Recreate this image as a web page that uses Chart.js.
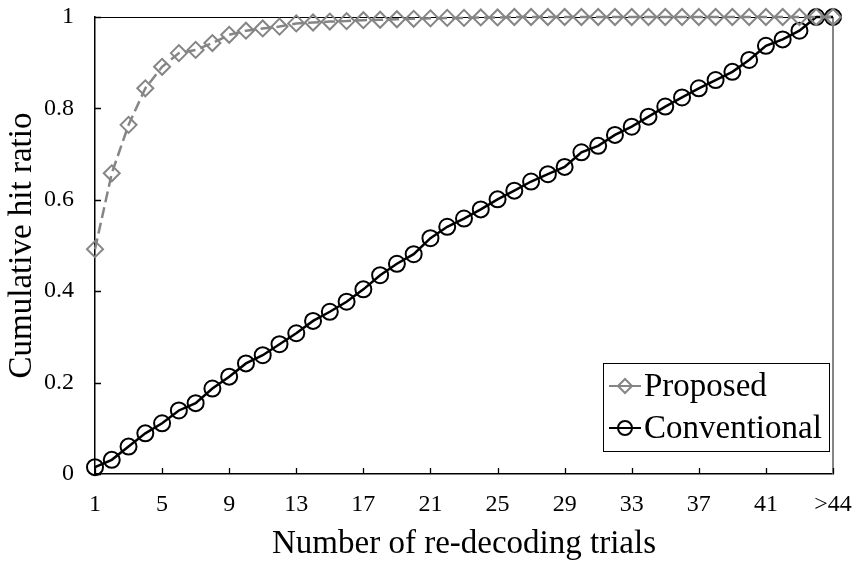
<!DOCTYPE html>
<html>
<head>
<meta charset="utf-8">
<script src="https://cdn.jsdelivr.net/npm/chart.js@4.4.1/dist/chart.umd.min.js"></script>
<style>
  html, body { margin: 0; padding: 0; background: #fff; }
  #wrap { width: 858px; height: 562px; }
</style>
</head>
<body>
<div id="wrap"><canvas id="hitChart" width="858" height="562"></canvas></div>
<script>
// trial counts on the x axis (last bucket collects everything above 44)
const trialLabels = ['1','2','3','4','5','6','7','8','9','10',
  '11','12','13','14','15','16','17','18','19','20',
  '21','22','23','24','25','26','27','28','29','30',
  '31','32','33','34','35','36','37','38','39','40',
  '41','42','43','44','>44'];

const proposedRatio = [0.492, 0.658, 0.764, 0.844, 0.891, 0.921, 0.928, 0.943, 0.961, 0.970,
  0.975, 0.979, 0.986, 0.988, 0.990, 0.991, 0.993, 0.994, 0.995, 0.996,
  0.997, 0.998, 0.998, 0.999, 0.999, 1.0, 1.0, 1.0, 1.0, 1.0,
  1.0, 1.0, 1.0, 1.0, 1.0, 1.0, 1.0, 1.0, 1.0, 1.0,
  1.0, 1.0, 1.0, 1.0, 1.0];

const conventionalRatio = [0.015, 0.031, 0.060, 0.089, 0.111, 0.139, 0.155, 0.187, 0.213, 0.242,
  0.260, 0.284, 0.308, 0.335, 0.355, 0.377, 0.404, 0.435, 0.460, 0.481,
  0.516, 0.541, 0.559, 0.579, 0.601, 0.620, 0.640, 0.656, 0.672, 0.704,
  0.718, 0.742, 0.760, 0.782, 0.804, 0.824, 0.844, 0.862, 0.880, 0.906,
  0.937, 0.951, 0.970, 1.0, 1.0];

const yTicks = [0, 0.2, 0.4, 0.6, 0.8, 1];
const X_LABEL_STEP = 4;

const SERIF = "'Liberation Serif', 'Times New Roman', serif";
const GREY = '#858585';

// inward tick marks plus the top / right frame of the plot area
const frameAndTicks = {
  id: 'frameAndTicks',
  beforeDatasetsDraw(chart) {
    const { ctx, chartArea: a, scales } = chart;
    ctx.save();
    ctx.strokeStyle = '#000';
    ctx.lineWidth = 1;
    ctx.beginPath();
    ctx.moveTo(a.left, a.top + 0.5);
    ctx.lineTo(a.right, a.top + 0.5);
    ctx.stroke();
    ctx.strokeStyle = GREY;
    ctx.lineWidth = 2;
    ctx.beginPath();
    ctx.moveTo(a.right, a.top);
    ctx.lineTo(a.right, a.bottom);
    ctx.stroke();

    ctx.strokeStyle = '#000';
    ctx.lineWidth = 1.3;
    ctx.beginPath();
    scales.x.ticks.forEach((t, i) => {
      if (i % X_LABEL_STEP !== 0) return;
      const px = Math.round(scales.x.getPixelForTick(i)) + 0.5;
      ctx.moveTo(px, a.bottom);
      ctx.lineTo(px, a.bottom - 6);
    });
    scales.y.ticks.forEach((t, i) => {
      const py = Math.round(scales.y.getPixelForTick(i)) + 0.5;
      ctx.moveTo(a.left, py);
      ctx.lineTo(a.left + 6, py);
    });
    ctx.stroke();
    ctx.restore();
  }
};

// boxed legend with line + marker samples
const boxLegend = {
  id: 'boxLegend',
  afterDraw(chart) {
    const { ctx } = chart;
    const box = { x: 603, y: 363, w: 226, h: 88 };
    ctx.save();
    ctx.fillStyle = '#fff';
    ctx.fillRect(box.x, box.y, box.w, box.h);
    ctx.strokeStyle = '#000';
    ctx.lineWidth = 1;
    ctx.strokeRect(box.x + 0.5, box.y + 0.5, box.w, box.h);

    chart.data.datasets.forEach((ds, i) => {
      const cy = box.y + 23 + i * 42;
      ctx.strokeStyle = ds.borderColor;
      ctx.lineWidth = 2;
      ctx.setLineDash([]);
      ctx.beginPath();
      ctx.moveTo(box.x + 6, cy);
      ctx.lineTo(box.x + 38, cy);
      ctx.stroke();
      ctx.fillStyle = 'rgba(0,0,0,0)';
      Chart.helpers.drawPoint(ctx, {
        pointStyle: ds.pointStyle,
        radius: 7,
        borderWidth: ds.pointBorderWidth,
        rotation: 0
      }, box.x + 22, cy);
      ctx.fillStyle = '#000';
      ctx.font = '33px ' + SERIF;
      ctx.textBaseline = 'middle';
      ctx.fillText(ds.label, box.x + 41, cy + 1);
    });
    ctx.restore();
  }
};

new Chart(document.getElementById('hitChart'), {
  type: 'line',
  data: {
    labels: trialLabels,
    datasets: [{
      label: 'Proposed',
      data: proposedRatio,
      borderColor: GREY,
      borderWidth: 2.5,
      borderDash: [11, 5],
      pointStyle: 'rectRot',
      pointRadius: 8,
      pointBorderWidth: 2,
      pointBorderColor: GREY,
      pointBackgroundColor: 'rgba(0,0,0,0)',
      tension: 0,
      clip: false
    }, {
      label: 'Conventional',
      data: conventionalRatio,
      borderColor: '#000',
      borderWidth: 2.5,
      pointStyle: 'circle',
      pointRadius: 8,
      pointBorderWidth: 2,
      pointBorderColor: '#000',
      pointBackgroundColor: 'rgba(0,0,0,0)',
      tension: 0,
      clip: false
    }]
  },
  options: {
    responsive: false,
    animation: false,
    events: [],
    layout: { padding: { top: 17, right: 25, left: 0, bottom: 0 } },
    plugins: {
      legend: { display: false },
      tooltip: { enabled: false }
    },
    scales: {
      x: {
        type: 'category',
        offset: false,
        grid: { display: false, drawTicks: false },
        border: { display: true, color: '#000', width: 1.5 },
        ticks: {
          autoSkip: false,
          maxRotation: 0,
          padding: 16,
          color: '#000',
          font: { family: SERIF, size: 24 },
          callback: (v, i) => (i % X_LABEL_STEP === 0 ? trialLabels[i] : '')
        },
        title: {
          display: true,
          text: 'Number of re-decoding trials',
          color: '#000',
          font: { family: SERIF, size: 33, lineHeight: 1 },
          padding: { top: 0, bottom: 1 }
        },
        afterFit: (scale) => {
          scale.height = 88;
          scale.paddingLeft = 0;
          scale.paddingRight = 0;
        }
      },
      y: {
        min: 0,
        max: 1,
        afterBuildTicks: (scale) => { scale.ticks = yTicks.map(v => ({ value: v })); },
        grid: { display: false, drawTicks: false },
        border: { display: true, color: '#000', width: 1.5 },
        ticks: {
          padding: 21,
          color: '#000',
          font: { family: SERIF, size: 24 },
          callback: (v) => String(v)
        },
        title: {
          display: true,
          text: 'Cumulative hit ratio',
          color: '#000',
          font: { family: SERIF, size: 33 },
          padding: { top: 3, bottom: 0 }
        },
        afterFit: (scale) => {
          scale.width = 95;
          scale.paddingTop = 0;
          scale.paddingBottom = 0;
        }
      }
    }
  },
  plugins: [frameAndTicks, boxLegend]
});
</script>
</body>
</html>
